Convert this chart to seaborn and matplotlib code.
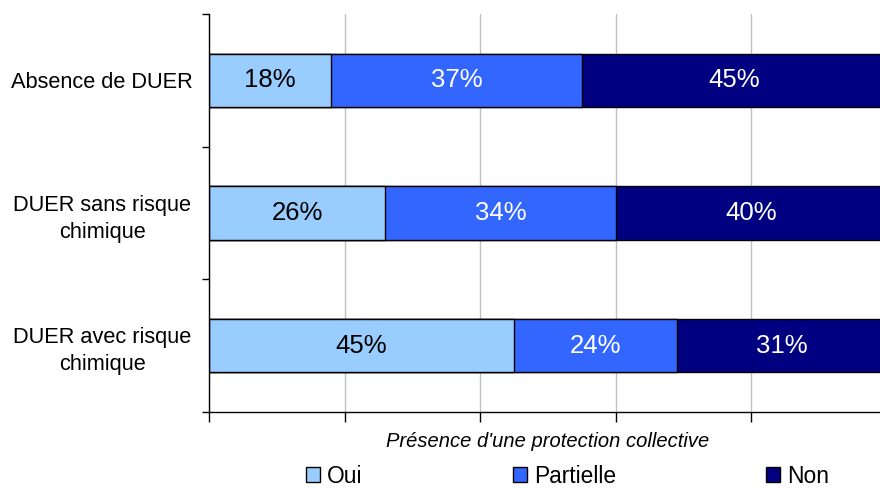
import matplotlib
matplotlib.use("Agg")
import matplotlib.pyplot as plt
from matplotlib.patches import Patch
import numpy as np
import pandas as pd
import seaborn as sns

# Data
categories = ["Absence de DUER", "DUER sans risque\nchimique", "DUER avec risque\nchimique"]
series = ["Oui", "Partielle", "Non"]
oui = [18, 26, 45]
partielle = [37, 34, 24]
non = [45, 40, 31]
colors = ["#99CCFF", "#3366FF", "#000080"]
label_colors = ["black", "white", "white"]
xlabel = "Présence d'une protection collective"

sns.set_theme(style="white")
plt.rcParams["font.family"] = ["Liberation Sans", "DejaVu Sans"]
plt.rcParams.update({"text.color": "black", "axes.labelcolor": "black",
                     "xtick.color": "black", "ytick.color": "black"})

values = np.array([oui, partielle, non], dtype=float)
cum = np.cumsum(values, axis=0)

fig = plt.figure(figsize=(8.8, 4.88), dpi=100)
ax = fig.add_axes([209 / 880, 1 - 412 / 488, 678 / 880, 398 / 488])

# Stacked bars: draw cumulative totals from the outermost segment inwards
for i in reversed(range(len(series))):
    df = pd.DataFrame({"cat": categories, "end": cum[i] / 100.0})
    sns.barplot(data=df, x="end", y="cat", order=categories, orient="h",
                color=colors[i], saturation=1, width=0.4, errorbar=None,
                edgecolor="black", linewidth=1, ax=ax)

# Segment value labels
for i in range(len(series)):
    for j in range(len(categories)):
        center = (cum[i][j] - values[i][j] / 2) / 100.0
        ax.text(center, j, f"{values[i][j]:.0f}%", ha="center", va="center",
                fontsize=18.5, color=label_colors[i])

ax.set_xlim(0, 1)
ax.set_ylim(2.5, -0.5)
ax.set_xticks(np.arange(0, 1.01, 0.2))
ax.set_xticklabels([])
ax.tick_params(axis="x", which="major", direction="out", length=7, width=1,
               color="black", bottom=True)
ax.set_yticks(np.arange(len(categories)))
ax.set_yticklabels(categories, fontsize=15.7, ha="center", linespacing=1.38,
                   color="black")
ax.tick_params(axis="y", which="major", length=0, pad=77)
ax.set_yticks([-0.5, 0.5, 1.5, 2.5], minor=True)
ax.tick_params(axis="y", which="minor", direction="out", length=5, width=1,
               color="black", left=True)
ax.set_ylabel("")
ax.set_xlabel(xlabel, fontsize=14.5, fontstyle="italic", labelpad=4,
              color="black")

ax.xaxis.grid(True, color="#C0C0C0", linewidth=1)
ax.yaxis.grid(False)
ax.set_axisbelow(True)
for side in ["top", "right"]:
    ax.spines[side].set_visible(False)
for side in ["left", "bottom"]:
    ax.spines[side].set_color("black")
    ax.spines[side].set_linewidth(1)

handles = [Patch(facecolor=c, edgecolor="black", linewidth=1) for c in colors]
fig.legend(handles, series, loc="center", bbox_to_anchor=(0.645, 0.024),
           ncol=3, frameon=False, fontsize=16.4, handlelength=0.62,
           handleheight=0.62, handletextpad=0.3, columnspacing=6.6,
           borderpad=0.2)

fig.savefig("out.png", dpi=100)
